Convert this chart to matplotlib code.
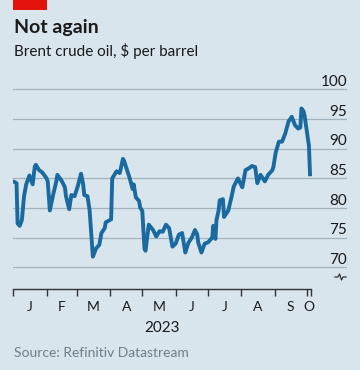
import pandas as pd
import matplotlib
matplotlib.use("Agg")
import matplotlib.pyplot as plt
import matplotlib.dates as mdates
from matplotlib.lines import Line2D
from matplotlib.patches import Rectangle

# Brent crude, $ per barrel
dates = [
    "2023-01-02", "2023-01-04", "2023-01-05", "2023-01-07", "2023-01-09", "2023-01-11",
    "2023-01-13", "2023-01-16", "2023-01-19", "2023-01-21", "2023-01-22", "2023-01-25",
    "2023-01-28", "2023-02-01", "2023-02-02", "2023-02-04", "2023-02-07", "2023-02-10",
    "2023-02-11", "2023-02-15", "2023-02-18", "2023-02-19", "2023-02-22", "2023-02-24",
    "2023-02-27", "2023-03-02", "2023-03-05", "2023-03-07", "2023-03-08", "2023-03-11",
    "2023-03-13", "2023-03-16", "2023-03-19", "2023-03-22", "2023-03-24", "2023-03-27",
    "2023-03-28", "2023-04-02", "2023-04-03", "2023-04-07", "2023-04-10", "2023-04-13",
    "2023-04-14", "2023-04-17", "2023-04-19", "2023-04-22", "2023-04-23", "2023-04-25",
    "2023-04-28", "2023-04-29", "2023-05-01", "2023-05-03", "2023-05-04", "2023-05-07",
    "2023-05-11", "2023-05-14", "2023-05-17", "2023-05-20", "2023-05-23", "2023-05-26",
    "2023-05-29", "2023-06-01", "2023-06-04", "2023-06-07", "2023-06-10", "2023-06-13",
    "2023-06-16", "2023-06-19", "2023-06-21", "2023-06-22", "2023-06-25", "2023-06-28",
    "2023-07-01", "2023-07-05", "2023-07-06", "2023-07-08", "2023-07-09", "2023-07-11",
    "2023-07-12", "2023-07-15", "2023-07-16", "2023-07-20", "2023-07-23", "2023-07-25",
    "2023-07-28", "2023-07-29", "2023-08-02", "2023-08-05", "2023-08-08", "2023-08-11",
    "2023-08-14", "2023-08-16", "2023-08-19", "2023-08-23", "2023-08-26", "2023-08-30",
    "2023-08-31", "2023-09-02", "2023-09-05", "2023-09-08", "2023-09-11", "2023-09-14",
    "2023-09-17", "2023-09-20", "2023-09-23", "2023-09-25", "2023-09-26", "2023-09-28",
    "2023-09-29", "2023-10-03", "2023-10-04",
]
prices = [
    84.4, 84.2, 77.4, 77.0, 78.0, 82.0,
    84.0, 85.5, 84.0, 87.0, 87.3, 86.4,
    86.0, 85.0, 84.5, 79.6, 82.2, 84.5,
    85.6, 84.6, 83.5, 82.0, 79.8, 82.2,
    82.0, 83.7, 85.8, 84.0, 82.2, 82.0,
    79.6, 71.8, 73.2, 73.8, 75.8, 76.6,
    77.6, 78.1, 85.0, 86.2, 85.9, 88.3,
    88.0, 86.3, 85.2, 83.2, 84.0, 81.8,
    81.2, 80.1, 79.5, 73.2, 72.8, 77.2,
    76.3, 75.2, 76.1, 76.0, 77.2, 76.6,
    73.5, 74.0, 75.5, 75.8, 72.5, 74.2,
    75.0, 76.3, 75.6, 74.2, 72.5, 74.0,
    74.2, 75.0, 77.0, 74.8, 78.0, 79.6,
    81.3, 81.5, 78.5, 79.6, 81.9, 83.6,
    84.7, 85.0, 83.5, 86.4, 86.7, 87.1,
    86.9, 84.2, 85.6, 84.5, 85.6, 86.4,
    87.0, 89.3, 91.2, 91.2, 92.6, 94.6,
    95.4, 94.0, 93.4, 93.6, 96.8, 96.3,
    95.5, 90.5, 85.7,
]
y_ticks = [70, 75, 80, 85, 90, 95, 100]
month_starts = ["2023-01-01", "2023-02-01", "2023-03-01", "2023-04-01", "2023-05-01",
                "2023-06-01", "2023-07-01", "2023-08-01", "2023-09-01", "2023-10-01"]
axis_end = "2023-10-05"
month_labels = ["J", "F", "M", "A", "M", "J", "J", "A", "S", "O"]

BG = "#d8e5ed"
BLUE = "#1a6aa0"
GRID = "#a3b3bd"
DARK = "#1a1a1a"

plt.rcParams["font.family"] = ["Lato", "DejaVu Sans"]

fig = plt.figure(figsize=(3.6, 3.7), dpi=100, facecolor=BG)
ax = fig.add_axes([13.3 / 360, 1 - 289.3 / 370, (347 - 13.3) / 360, (289.3 - 80) / 370])
ax.set_facecolor(BG)

x = pd.to_datetime(dates)
ax.plot(x, prices, color=BLUE, linewidth=2.8, solid_joinstyle="round", zorder=3)

starts = pd.to_datetime(month_starts)
end = pd.Timestamp(axis_end)
ax.set_xlim(starts[0], starts[0] + pd.Timedelta(days=310.4))
ax.set_ylim(66.3, 101.6)

# horizontal grid + labels sitting on the lines
for v in y_ticks:
    ax.axhline(v, color=GRID, linewidth=0.9, zorder=1)
    ax.annotate(str(v), xy=(1.0, v), xycoords=ax.get_yaxis_transform(),
                xytext=(0, 2.5), textcoords="offset points",
                ha="right", va="baseline", fontsize=11, color=DARK)
ax.set_yticks([])

# x axis
for s in ["top", "right", "left"]:
    ax.spines[s].set_visible(False)
ax.spines["bottom"].set_bounds(mdates.date2num(starts[0]), mdates.date2num(end))
ax.spines["bottom"].set_color("#333333")
ax.spines["bottom"].set_linewidth(1.0)
ax.set_xticks(list(starts) + [end], labels=[""] * (len(starts) + 1))
ax.tick_params(axis="x", which="major", direction="out", length=5, width=1.0, color="#333333")

bounds = list(starts) + [end]
mids = [bounds[i] + (bounds[i + 1] - bounds[i]) / 2 for i in range(len(starts))]
ax.set_xticks(mids, labels=month_labels, minor=True)
ax.tick_params(axis="x", which="minor", length=0, pad=8.5, labelsize=10, labelcolor=DARK)

mid_all = starts[0] + (end - starts[0]) / 2
ax.text(mid_all, -0.187, "2023", transform=ax.get_xaxis_transform(),
        ha="center", va="center", fontsize=11, color=DARK)

# axis-break symbol under the 70 label
bx = [335, 338, 339.5, 341.5, 343, 346]
by = [277, 277, 274, 280, 277, 277]
fig.add_artist(Line2D([v / 360 for v in bx], [1 - v / 370 for v in by],
                      color="#333333", linewidth=0.9))

# header / footer
fig.add_artist(Rectangle((13.3 / 360, 1 - 10 / 370), 33.4 / 360, 10 / 370,
                         color="#e3120b", transform=fig.transFigure, lw=0))
fig.text(13.5 / 360, 1 - 33.3 / 370, "Not again", fontsize=14, fontweight="bold",
         color=DARK, va="baseline")
fig.text(13.5 / 360, 1 - 55.7 / 370, "Brent crude oil, $ per barrel", fontsize=11,
         color=DARK, va="baseline")
fig.text(13.5 / 360, 1 - 356.7 / 370, "Source: Refinitiv Datastream", fontsize=10,
         color="#6f7f8a", va="baseline")

fig.savefig("out.png", dpi=100, facecolor=BG)
